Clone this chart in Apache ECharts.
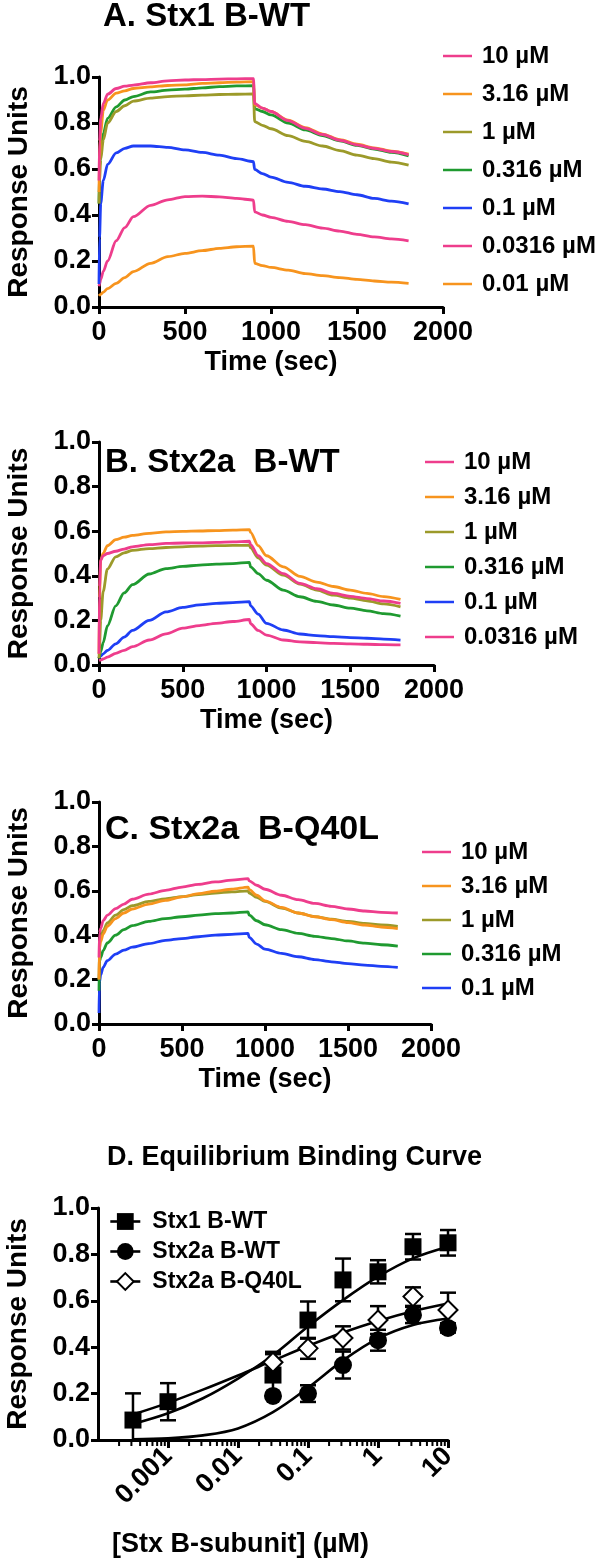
<!DOCTYPE html>
<html>
<head>
<meta charset="utf-8">
<script src="https://cdn.jsdelivr.net/npm/echarts@6/dist/echarts.min.js"></script>
<style>
html,body{margin:0;padding:0;background:#fff;}
#c{width:600px;height:1564px;}
</style>
</head>
<body>
<div id="c"></div>
<script>
// ---------------- DATA ----------------
const time = [0, 3, 10, 25, 50, 100, 150, 200, 300, 400, 500, 600, 700, 800, 898, 905, 950, 1000, 1100, 1200, 1300, 1400, 1500, 1600, 1700, 1800];

// Panel A: Stx1 B-WT
const legendA = ['10 µM', '3.16 µM', '1 µM', '0.316 µM', '0.1 µM', '0.0316 µM', '0.01 µM'];
const a_10    = [0.55, 0.72, 0.82, 0.885, 0.925, 0.95, 0.96, 0.965, 0.975, 0.983, 0.987, 0.989, 0.991, 0.992, 0.993, 0.885, 0.865, 0.85, 0.81, 0.777, 0.75, 0.725, 0.705, 0.69, 0.676, 0.662];
const a_316   = [0.5, 0.65, 0.76, 0.855, 0.9, 0.93, 0.94, 0.95, 0.957, 0.963, 0.966, 0.972, 0.975, 0.978, 0.98, 0.88, 0.865, 0.85, 0.812, 0.78, 0.752, 0.728, 0.708, 0.692, 0.678, 0.665];
const a_1     = [0.45, 0.55, 0.64, 0.726, 0.8, 0.85, 0.875, 0.895, 0.908, 0.915, 0.918, 0.921, 0.924, 0.925, 0.926, 0.806, 0.79, 0.775, 0.745, 0.72, 0.7, 0.68, 0.66, 0.645, 0.63, 0.617];
const a_0316  = [0.45, 0.6, 0.68, 0.755, 0.82, 0.87, 0.9, 0.915, 0.935, 0.943, 0.947, 0.953, 0.958, 0.961, 0.962, 0.862, 0.85, 0.835, 0.8, 0.77, 0.745, 0.722, 0.703, 0.687, 0.672, 0.657];
const a_01    = [0.1, 0.3, 0.45, 0.55, 0.62, 0.67, 0.69, 0.7, 0.7, 0.694, 0.683, 0.672, 0.66, 0.645, 0.632, 0.598, 0.58, 0.565, 0.542, 0.525, 0.513, 0.502, 0.488, 0.472, 0.46, 0.448];
const a_00316 = [0.09, 0.1, 0.12, 0.155, 0.2, 0.288, 0.345, 0.393, 0.442, 0.466, 0.48, 0.482, 0.479, 0.472, 0.465, 0.414, 0.4, 0.39, 0.372, 0.358, 0.343, 0.33, 0.316, 0.305, 0.296, 0.288];
const a_001   = [0.048, 0.05, 0.055, 0.065, 0.08, 0.103, 0.128, 0.154, 0.19, 0.219, 0.233, 0.245, 0.255, 0.262, 0.265, 0.19, 0.18, 0.172, 0.16, 0.145, 0.136, 0.128, 0.12, 0.113, 0.108, 0.103];

// Panel B: Stx2a B-WT
const legendB = ['10 µM', '3.16 µM', '1 µM', '0.316 µM', '0.1 µM', '0.0316 µM'];
const b_10    = [0.05, 0.35, 0.47, 0.49, 0.5, 0.51, 0.52, 0.53, 0.54, 0.545, 0.547, 0.548, 0.55, 0.552, 0.555, 0.54, 0.49, 0.455, 0.41, 0.366, 0.342, 0.321, 0.308, 0.298, 0.287, 0.276];
const b_316   = [0.05, 0.3, 0.47, 0.5, 0.535, 0.562, 0.573, 0.581, 0.59, 0.597, 0.599, 0.601, 0.603, 0.605, 0.607, 0.595, 0.535, 0.49, 0.44, 0.397, 0.372, 0.352, 0.336, 0.321, 0.307, 0.294];
const b_1     = [0.03, 0.08, 0.2, 0.33, 0.43, 0.485, 0.503, 0.514, 0.522, 0.527, 0.53, 0.533, 0.535, 0.536, 0.537, 0.525, 0.48, 0.448, 0.403, 0.363, 0.336, 0.313, 0.3, 0.288, 0.274, 0.261];
const b_0316  = [0.03, 0.04, 0.06, 0.1, 0.175, 0.265, 0.323, 0.36, 0.408, 0.432, 0.442, 0.448, 0.452, 0.455, 0.46, 0.44, 0.41, 0.38, 0.336, 0.306, 0.285, 0.269, 0.255, 0.243, 0.23, 0.219];
const b_01    = [0.03, 0.035, 0.04, 0.05, 0.065, 0.095, 0.125, 0.155, 0.2, 0.238, 0.258, 0.27, 0.276, 0.28, 0.284, 0.265, 0.228, 0.187, 0.157, 0.139, 0.132, 0.127, 0.123, 0.12, 0.116, 0.112];
const b_00316 = [0.02, 0.02, 0.022, 0.027, 0.035, 0.052, 0.066, 0.082, 0.112, 0.14, 0.165, 0.177, 0.187, 0.195, 0.204, 0.185, 0.155, 0.134, 0.112, 0.104, 0.1, 0.097, 0.095, 0.093, 0.091, 0.09];

// Panel C: Stx2a B-Q40L
const legendC = ['10 µM', '3.16 µM', '1 µM', '0.316 µM', '0.1 µM'];
const c_10    = [0.3, 0.41, 0.43, 0.465, 0.49, 0.52, 0.54, 0.562, 0.585, 0.602, 0.617, 0.629, 0.64, 0.648, 0.655, 0.645, 0.625, 0.607, 0.58, 0.56, 0.543, 0.53, 0.518, 0.509, 0.503, 0.5];
const c_316   = [0.2, 0.34, 0.37, 0.405, 0.44, 0.475, 0.5, 0.518, 0.54, 0.557, 0.573, 0.587, 0.598, 0.607, 0.617, 0.605, 0.58, 0.555, 0.525, 0.5, 0.483, 0.47, 0.457, 0.446, 0.437, 0.43];
const c_1     = [0.2, 0.36, 0.39, 0.42, 0.455, 0.49, 0.515, 0.533, 0.552, 0.564, 0.574, 0.583, 0.59, 0.595, 0.6, 0.59, 0.57, 0.552, 0.522, 0.5, 0.484, 0.472, 0.462, 0.453, 0.446, 0.44];
const c_0316  = [0.15, 0.28, 0.3, 0.33, 0.365, 0.4, 0.425, 0.443, 0.462, 0.475, 0.483, 0.49, 0.497, 0.5, 0.505, 0.49, 0.465, 0.447, 0.425, 0.408, 0.395, 0.385, 0.374, 0.364, 0.357, 0.351];
const c_01    = [0.05, 0.19, 0.22, 0.255, 0.285, 0.315, 0.333, 0.346, 0.362, 0.377, 0.385, 0.393, 0.4, 0.404, 0.408, 0.39, 0.36, 0.337, 0.318, 0.303, 0.29, 0.28, 0.272, 0.265, 0.26, 0.255];

// Panel D: Equilibrium binding
const legendD = ['Stx1 B-WT', 'Stx2a B-WT', 'Stx2a B-Q40L'];
const concD      = [0.000316, 0.001, 0.0316, 0.1, 0.316, 1, 3.16, 10];
const stx1Mean   = [0.086, 0.165, 0.28, 0.517, 0.69, 0.725, 0.833, 0.85];
const stx1Err    = [0.115, 0.08, 0.09, 0.08, 0.092, 0.05, 0.055, 0.055];
const stx2Mean   = [null, null, 0.19, 0.2, 0.323, 0.43, 0.539, 0.483];
const stx2Err    = [null, null, 0.01, 0.036, 0.058, 0.045, 0.035, 0.02];
const q40lMean   = [null, null, 0.335, 0.395, 0.44, 0.517, 0.618, 0.56];
const q40lErr    = [null, null, 0.045, 0.045, 0.05, 0.06, 0.04, 0.075];
const fitX       = [0.000316, 0.001, 0.00316, 0.01, 0.0316, 0.1, 0.316, 1, 3.16, 10];
const stx1Fit    = [0.069, 0.115, 0.18, 0.265, 0.365, 0.489, 0.603, 0.704, 0.783, 0.833];
const stx2Fit    = [0.003, 0.007, 0.02, 0.05, 0.12, 0.225, 0.343, 0.438, 0.496, 0.524];
const q40lFit    = [0.11, 0.16, 0.217, 0.278, 0.342, 0.405, 0.463, 0.513, 0.555, 0.588];
const xTicksD    = [0.0001, 0.001, 0.01, 0.1, 1, 10];
const minorTicksD = [0.0002,0.0003,0.0004,0.0005,0.0006,0.0007,0.0008,0.0009,
                     0.002,0.003,0.004,0.005,0.006,0.007,0.008,0.009,
                     0.02,0.03,0.04,0.05,0.06,0.07,0.08,0.09,
                     0.2,0.3,0.4,0.5,0.6,0.7,0.8,0.9,
                     2,3,4,5,6,7,8,9];

// ---------------- STYLE ----------------
const FONT = 'Arial, "Liberation Sans", Helvetica, sans-serif';
const colorOf = {
  '10 µM': '#EE3D8C', '3.16 µM': '#F7941E', '1 µM': '#9C9A2A', '0.316 µM': '#1F9A30',
  '0.1 µM': '#1F3FF5', '0.0316 µM': '#EE3D8C', '0.01 µM': '#F7941E'
};
const grids = [
  {left: 99, top: 77, width: 344, height: 230},
  {left: 99, top: 442, width: 335, height: 223},
  {left: 99, top: 802, width: 332, height: 222},
  {left: 98, top: 1208, width: 350, height: 232}
];

function yAxisFor(i) {
  return {
    gridIndex: i, type: 'value', min: 0, max: 1, interval: 0.2,
    name: 'Response Units', nameLocation: 'middle', nameGap: 66,
    nameTextStyle: {fontFamily: FONT, fontWeight: 'bold', fontSize: 28, color: '#000'},
    axisLine: {show: true, lineStyle: {color: '#000', width: 3}},
    axisTick: {show: true, length: 7, lineStyle: {color: '#000', width: 3}},
    axisLabel: {margin: 8, fontFamily: FONT, fontWeight: 'bold', fontSize: 27, color: '#000',
                formatter: v => v.toFixed(1)},
    splitLine: {show: false}
  };
}
function xTimeAxis(i) {
  return {
    gridIndex: i, type: 'value', min: 0, max: 2000, interval: 500,
    name: 'Time (sec)', nameLocation: 'middle', nameGap: 42,
    nameTextStyle: {fontFamily: FONT, fontWeight: 'bold', fontSize: 27, color: '#000'},
    axisLine: {show: true, onZero: false, lineStyle: {color: '#000', width: 3}},
    axisTick: {show: true, length: 7, lineStyle: {color: '#000', width: 3}},
    axisLabel: {margin: 12, fontFamily: FONT, fontWeight: 'bold', fontSize: 27, color: '#000',
                formatter: v => String(v)},
    splitLine: {show: false}
  };
}

const series = [];
function addKinetics(gi, names, arrays) {
  names.forEach((n, k) => {
    series.push({
      type: 'line', name: n, xAxisIndex: gi, yAxisIndex: gi,
      data: time.map((t, j) => [t, arrays[k][j]]),
      showSymbol: false, symbol: 'none', smooth: 0.3, smoothMonotone: 'x',
      lineStyle: {color: colorOf[n], width: 2.8}, itemStyle: {color: colorOf[n]},
      silent: true, animation: false, z: 10 - k
    });
  });
}
addKinetics(0, legendA, [a_10, a_316, a_1, a_0316, a_01, a_00316, a_001]);
addKinetics(1, legendB, [b_10, b_316, b_1, b_0316, b_01, b_00316]);
addKinetics(2, legendC, [c_10, c_316, c_1, c_0316, c_01]);

// Panel D series
const dSym = [
  {name: legendD[0], mean: stx1Mean, err: stx1Err, fit: stx1Fit, symbol: 'rect', size: 17, item: {color: '#000'}},
  {name: legendD[1], mean: stx2Mean, err: stx2Err, fit: stx2Fit, symbol: 'circle', size: 18, item: {color: '#000'}},
  {name: legendD[2], mean: q40lMean, err: q40lErr, fit: q40lFit, symbol: 'diamond', size: 19, item: {color: '#fff', borderColor: '#000', borderWidth: 2}}
];
dSym.forEach((d, k) => {
  series.push({
    type: 'line', name: d.name + ' fit', xAxisIndex: 3, yAxisIndex: 3,
    data: fitX.map((x, j) => [x, d.fit[j]]),
    showSymbol: false, symbol: 'none', smooth: 0.35,
    lineStyle: {color: '#000', width: 2.6}, silent: true, animation: false, z: 3
  });
  series.push({
    type: 'custom', name: d.name + ' err', xAxisIndex: 3, yAxisIndex: 3,
    data: concD.map((x, j) => d.mean[j] == null ? null : [x, d.mean[j], d.err[j]]).filter(v => v),
    encode: {x: 0, y: 1}, silent: true, animation: false, z: 4,
    renderItem: function (params, api) {
      const x = api.value(0), y = api.value(1), e = api.value(2);
      const hi = api.coord([x, y + e]);
      const lo = api.coord([x, Math.max(0, y - e)]);
      const w = 8;
      const st = {stroke: '#000', lineWidth: 2.5};
      const ch = [
        {type: 'line', shape: {x1: hi[0], y1: hi[1], x2: lo[0], y2: lo[1]}, style: st},
        {type: 'line', shape: {x1: hi[0] - w, y1: hi[1], x2: hi[0] + w, y2: hi[1]}, style: st}
      ];
      if (y - e > 0) ch.push({type: 'line', shape: {x1: lo[0] - w, y1: lo[1], x2: lo[0] + w, y2: lo[1]}, style: st});
      return {type: 'group', children: ch};
    }
  });
  series.push({
    type: 'line', name: d.name, xAxisIndex: 3, yAxisIndex: 3,
    data: concD.map((x, j) => d.mean[j] == null ? null : [x, d.mean[j]]).filter(v => v),
    symbol: d.symbol, symbolSize: d.size, showSymbol: true, showAllSymbol: true,
    lineStyle: {width: 0, opacity: 0}, itemStyle: d.item,
    silent: true, animation: false, z: 6 + k
  });
});
series.push({
  type: 'custom', name: 'minor ticks', xAxisIndex: 3, yAxisIndex: 3,
  data: minorTicksD.map(v => [v, 0]), encode: {x: 0, y: 1}, silent: true, animation: false, z: 2,
  renderItem: function (params, api) {
    const p = api.coord([api.value(0), 0]);
    return {type: 'line', shape: {x1: p[0], y1: p[1], x2: p[0], y2: p[1] + 6}, style: {stroke: '#000', lineWidth: 2}};
  }
});

function titleAt(text, left, top, size) {
  return {text: text, left: left, top: top, padding: 0,
          textStyle: {fontFamily: FONT, fontWeight: 'bold', fontSize: size, color: '#000'}};
}
function legendAt(names, left, top, gap) {
  return {
    data: names, orient: 'vertical', left: left, top: top, itemGap: gap, padding: 0,
    icon: 'rect', itemWidth: 29, itemHeight: 2.5, selectedMode: false,
    textStyle: {fontFamily: FONT, fontWeight: 'bold', fontSize: 24, color: '#000', padding: [0, 0, 0, 5]}
  };
}

const option = {
  backgroundColor: '#fff',
  animation: false,
  title: [
    titleAt('A. Stx1 B-WT', 103, 0, 33),
    titleAt('B. Stx2a  B-WT', 105, 446, 33),
    titleAt('C. Stx2a  B-Q40L', 105, 813, 34),
    titleAt('D. Equilibrium Binding Curve', 107, 1144, 27),
    titleAt('[Stx B-subunit] (µM)', 112, 1531, 27)
  ],
  legend: [
    legendAt(legendA, 443, 44, 14),
    legendAt(legendB, 425, 450, 11),
    legendAt(legendC, 422, 840, 10),
    {
      data: legendD, orient: 'vertical', left: 109, top: 1210, itemGap: 7, padding: 0,
      itemWidth: 30, itemHeight: 21, selectedMode: false,
      lineStyle: {color: '#000', width: 2.6, opacity: 1},
      textStyle: {fontFamily: FONT, fontWeight: 'bold', fontSize: 23, color: '#000', padding: [0, 0, 0, 7]}
    }
  ],
  grid: grids.map(g => Object.assign({containLabel: false, outerBoundsMode: 'none'}, g)),
  xAxis: [
    xTimeAxis(0), xTimeAxis(1), xTimeAxis(2),
    {
      gridIndex: 3, type: 'log', logBase: 10, min: xTicksD[0], max: xTicksD[xTicksD.length - 1],
      axisLine: {show: true, onZero: false, lineStyle: {color: '#000', width: 3}},
      axisTick: {show: true, length: 8, lineStyle: {color: '#000', width: 3}},
      minorTick: {show: false},
      axisLabel: {rotate: 45, margin: 12, showMinLabel: false, fontFamily: FONT, fontWeight: 'bold', fontSize: 27, color: '#000',
                  formatter: v => (v < 0.0005 ? '' : String(+v.toPrecision(3)))},
      splitLine: {show: false}
    }
  ],
  yAxis: [yAxisFor(0), yAxisFor(1), yAxisFor(2), yAxisFor(3)],
  series: series
};

const chart = echarts.init(document.getElementById('c'), null, {renderer: 'canvas'});
chart.setOption(option);
</script>
</body>
</html>
